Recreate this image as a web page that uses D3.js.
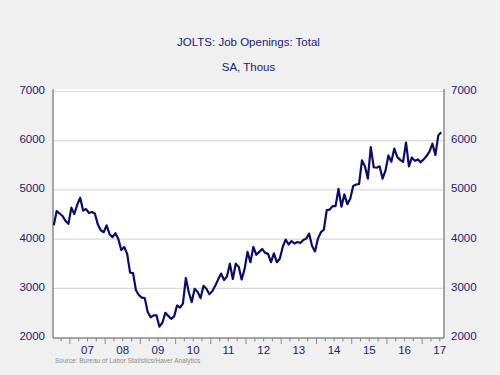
<!DOCTYPE html>
<html>
<head>
<meta charset="utf-8">
<script src="https://cdn.jsdelivr.net/npm/d3@7"></script>
<style>
  html, body { margin: 0; padding: 0; background: #f0f0f0; }
  svg { display: block; }
</style>
</head>
<body>
<svg id="chart" width="500" height="375"></svg>
<script>
// ---- Data ----
const title = "JOLTS: Job Openings: Total";
const subtitle = "SA, Thous";
const source = "Source:  Bureau of Labor Statistics/Haver Analytics";
const startYear = 2006;
const startMonth = 6; // July (0-based)
// Monthly job openings, thousands, Jul 2006 – Jul 2017
const openings = [
  4280, 4570, 4520, 4470, 4370, 4310,
  4640, 4510, 4700, 4840, 4580, 4610, 4530, 4550, 4520, 4300, 4180, 4140,
  4280, 4100, 4040, 4120, 4000, 3780, 3840, 3700, 3320, 3310, 2960, 2860,
  2810, 2800, 2520, 2410, 2450, 2450, 2220, 2300, 2500, 2440, 2380, 2430,
  2650, 2610, 2690, 3210, 2920, 2720, 2990, 2930, 2800, 3050, 2990, 2880,
  2940, 3050, 3180, 3300, 3170, 3240, 3500, 3190, 3500, 3440, 3180, 3390,
  3740, 3530, 3840, 3680, 3740, 3800, 3720, 3700, 3530, 3710, 3530, 3600,
  3840, 3990, 3890, 3960, 3910, 3940, 3920, 3980, 4010, 4110, 3860, 3750,
  4010, 4140, 4190, 4590, 4600, 4670, 4670, 5020, 4660, 4910, 4710, 4820,
  5080, 5110, 5120, 5600, 5480, 5230, 5870, 5460, 5450, 5480, 5230, 5390,
  5700, 5570, 5840, 5670, 5610, 5570, 5960, 5480, 5660, 5590, 5620, 5560,
  5620, 5690, 5780, 5940, 5710, 6110, 6170
];
const yTicks = [2000, 3000, 4000, 5000, 6000, 7000];
const yearLabels = ["07","08","09","10","11","12","13","14","15","16","17"];
const labelYears = [2007,2008,2009,2010,2011,2012,2013,2014,2015,2016,2017];

// ---- Layout ----
const svg = d3.select("#chart");
const L = 53, R = 444, T = 89, B = 338;
const navy = "#1a1a72";
const font = "Liberation Sans, Arial, sans-serif";

const data = openings.map((v, i) => {
  const m = startMonth + i;
  return { t: startYear + (m + 0.5) / 12, v };
});

const x = d3.scaleLinear().domain([2006.52, 2017.62]).range([L, R]);
const y = d3.scaleLinear().domain([2000, 7000]).range([337.5, 91.5]);

// plot background
svg.append("rect").attr("x", L).attr("y", T).attr("width", R - L).attr("height", B - T)
  .attr("fill", "#ffffff");

// gridlines
svg.append("g").selectAll("line").data(yTicks.filter(d => d > 2000)).join("line")
  .attr("x1", L).attr("x2", R)
  .attr("y1", d => y(d)).attr("y2", d => y(d))
  .attr("stroke", "#d9d9d9").attr("stroke-width", 1.2);

// axes lines
svg.append("line").attr("x1", L).attr("x2", L).attr("y1", T).attr("y2", B)
  .attr("stroke", "#8a8a8a").attr("stroke-width", 1.5);
svg.append("line").attr("x1", R).attr("x2", R).attr("y1", T).attr("y2", B)
  .attr("stroke", "#8a8a8a").attr("stroke-width", 1.5);
svg.append("line").attr("x1", L).attr("x2", R).attr("y1", B).attr("y2", B)
  .attr("stroke", "#8a8a8a").attr("stroke-width", 1.5);

// x ticks (quarterly, longer at year starts)
const qTicks = d3.range(2006.75, 2017.6, 0.25);
svg.append("g").selectAll("line").data(qTicks).join("line")
  .attr("x1", d => x(d)).attr("x2", d => x(d))
  .attr("y1", B).attr("y2", d => Math.abs(d - Math.round(d)) < 1e-6 ? B + 6 : B + 3.5)
  .attr("stroke", "#8a8a8a").attr("stroke-width", 1);

// x labels
svg.append("g").selectAll("text").data(labelYears).join("text")
  .attr("x", d => x(d + 0.5))
  .attr("y", 350.5)
  .attr("text-anchor", "middle").attr("dominant-baseline", "middle")
  .attr("font-family", font).attr("font-size", 11.5)
  .attr("fill", navy)
  .text((d, i) => yearLabels[i]);

// y labels left & right
const yl = svg.append("g").attr("font-family", font)
  .attr("font-size", 11.5).attr("fill", navy);
yl.selectAll("text.l").data(yTicks).join("text").attr("class", "l")
  .attr("x", 45).attr("y", d => y(d) - 0.5)
  .attr("text-anchor", "end").attr("dominant-baseline", "middle").text(d => d);
yl.selectAll("text.r").data(yTicks).join("text").attr("class", "r")
  .attr("x", 451).attr("y", d => y(d) - 0.5)
  .attr("text-anchor", "start").attr("dominant-baseline", "middle").text(d => d);

// line
const line = d3.line().x(d => x(d.t)).y(d => y(d.v));
svg.append("path").datum(data).attr("d", line)
  .attr("fill", "none").attr("stroke", "#0c0c6a").attr("stroke-width", 2.2)
  .attr("stroke-linejoin", "round");

// titles
svg.append("text").attr("x", 248.5).attr("y", 43).attr("text-anchor", "middle")
  .attr("dominant-baseline", "middle")
  .attr("font-family", font).attr("font-size", 11.5)
  .attr("fill", navy).text(title);
svg.append("text").attr("x", 248.5).attr("y", 68).attr("text-anchor", "middle")
  .attr("dominant-baseline", "middle")
  .attr("font-family", font).attr("font-size", 11.5)
  .attr("fill", navy).text(subtitle);

// source
svg.append("text").attr("x", 55).attr("y", 361)
  .attr("dominant-baseline", "middle")
  .attr("font-family", font).attr("font-size", 6.5)
  .attr("fill", "#8c8c8c").text(source);
</script>
</body>
</html>
